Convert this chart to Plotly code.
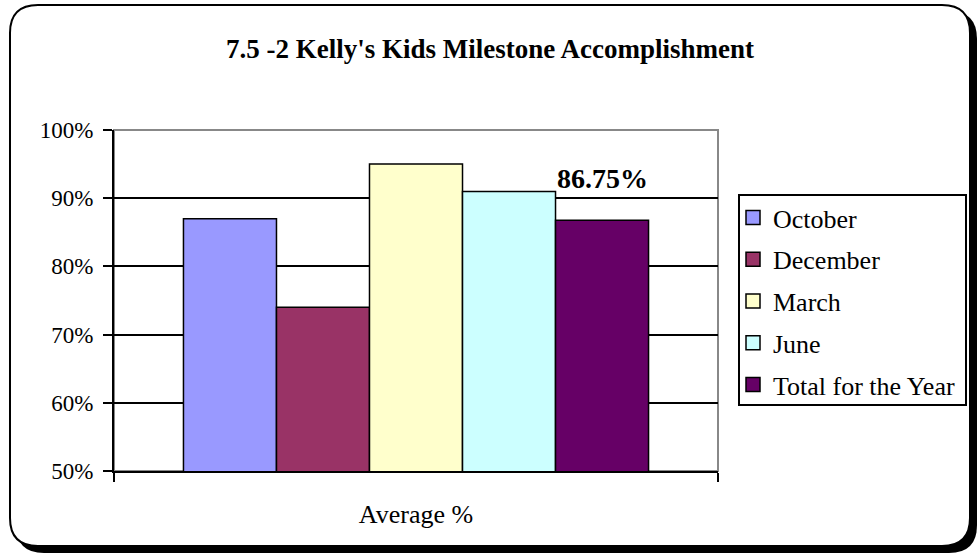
import plotly.graph_objects as go

# Milestone accomplishment by reporting period (fraction of milestones met)
category = ["Average %"]
periods = ["October", "December", "March", "June", "Total for the Year"]
values = [87.0, 74.0, 95.0, 91.0, 86.75]
colors = ["#9999FF", "#993366", "#FFFFCC", "#CCFFFF", "#660066"]
y_ticks = [50, 60, 70, 80, 90, 100]
y_tick_labels = ["50%", "60%", "70%", "80%", "90%", "100%"]
total_label = "86.75%"

W, H = 980, 554
L, R, T, B = 114, 718, 130, 471  # plot area edges in pixels


def px_x(p):
    return (p - L) / (R - L)


def px_y(p):
    return (B - p) / (B - T)


SERIF = "Liberation Serif, Times New Roman, serif"
BAR_GAP = 0.23

fig = go.Figure()
for name, v, c in zip(periods, values, colors):
    fig.add_trace(go.Bar(
        x=category, y=[v], name=name, legendgroup=name, showlegend=False,
        marker=dict(color=c, line=dict(color="black", width=1.5)),
        hoverinfo="skip",
    ))
# legend keys: square swatches matching each bar's fill
for name, c in zip(periods, colors):
    fig.add_trace(go.Scatter(
        x=[None], y=[None], mode="markers", name=name, legendgroup=name,
        marker=dict(symbol="square", size=14, color=c, line=dict(color="black", width=1.5)),
        hoverinfo="skip",
    ))


def rounded_rect(x0, y0, x1, y1, r):
    def P(x, y):
        return f"{px_x(x):.5f},{px_y(y):.5f}"
    return (f"M {P(x0 + r, y0)} L {P(x1 - r, y0)} Q {P(x1, y0)} {P(x1, y0 + r)} "
            f"L {P(x1, y1 - r)} Q {P(x1, y1)} {P(x1 - r, y1)} "
            f"L {P(x0 + r, y1)} Q {P(x0, y1)} {P(x0, y1 - r)} "
            f"L {P(x0, y0 + r)} Q {P(x0, y0)} {P(x0 + r, y0)} Z")


shapes = [
    # drop shadow of the chart frame
    dict(type="path", xref="paper", yref="paper", layer="below",
         path=rounded_rect(16, 11, 977, 553, 28),
         fillcolor="black", line=dict(width=0)),
    # chart frame
    dict(type="path", xref="paper", yref="paper", layer="below",
         path=rounded_rect(10, 5, 970, 546, 28),
         fillcolor="white", line=dict(color="black", width=2)),
    # plot area border (top/right appear grey)
    dict(type="rect", xref="paper", yref="paper", layer="below",
         x0=0, x1=1, y0=0, y1=1, line=dict(color="#888888", width=2)),
    # legend box
    dict(type="rect", xref="paper", yref="paper", layer="below",
         x0=px_x(739), x1=px_x(966), y0=px_y(195), y1=px_y(405),
         fillcolor="white", line=dict(color="black", width=2)),
]

# bold value label above the yearly total bar
n = len(periods)
group_w = 1 - BAR_GAP
total_x = -group_w / 2 + group_w * (n - 0.5) / n

fig.update_layout(
    width=W, height=H,
    margin=dict(l=L, r=W - R, t=T, b=H - B, autoexpand=False),
    paper_bgcolor="white", plot_bgcolor="rgba(0,0,0,0)",
    barmode="group", bargap=BAR_GAP, bargroupgap=0,
    font=dict(family=SERIF, color="black", size=22),
    title=dict(text="<b>7.5 -2 Kelly's Kids Milestone Accomplishment</b>",
               xref="container", x=0.5, xanchor="center",
               yref="container", y=1 - 49 / H, yanchor="middle",
               font=dict(family=SERIF, size=27, color="black")),
    xaxis=dict(
        showline=True, linecolor="black", linewidth=2,
        ticks="outside", tickson="boundaries", ticklen=9, tickwidth=2, tickcolor="black",
        ticklabelstandoff=19, tickfont=dict(size=26),
        showgrid=False, zeroline=False, fixedrange=True,
    ),
    yaxis=dict(
        range=[50, 100], tickvals=y_ticks, ticktext=y_tick_labels,
        showline=True, linecolor="black", linewidth=2,
        ticks="outside", ticklen=9, tickwidth=2, tickcolor="black",
        ticklabelstandoff=5, tickfont=dict(size=23),
        showgrid=True, gridcolor="black", gridwidth=2, zeroline=False, fixedrange=True,
    ),
    legend=dict(
        x=px_x(733), y=px_y(194), xanchor="left", yanchor="top",
        borderwidth=0, bgcolor="rgba(0,0,0,0)",
        font=dict(family=SERIF, size=26), tracegroupgap=5,
        itemwidth=30,
    ),
    shapes=shapes,
    annotations=[dict(
        x=total_x, y=values[-1], xref="x", yref="y",
        text=f"<b>{total_label}</b>", showarrow=False,
        yanchor="bottom", yshift=24, font=dict(family=SERIF, size=28),
    )],
)

fig.write_html("out.html")
